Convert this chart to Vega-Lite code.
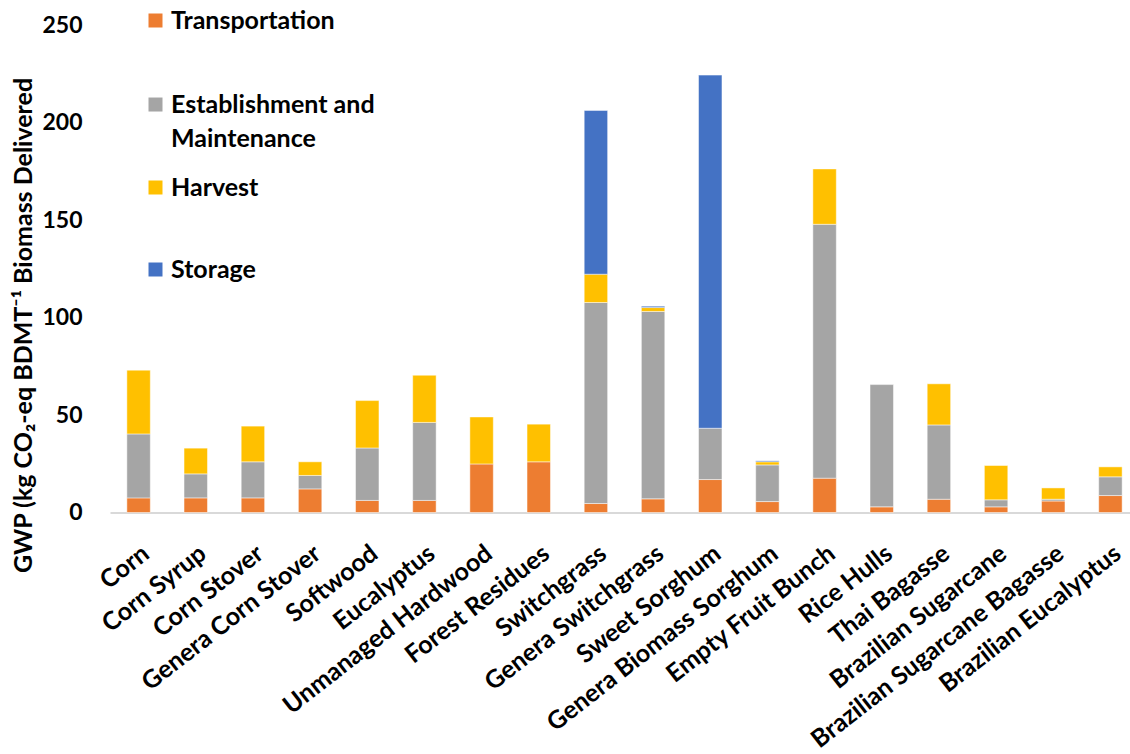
{
  "$schema": "https://vega.github.io/schema/vega-lite/v6.json",
  "width": 1020,
  "height": 487.5,
  "autosize": {"type": "none"},
  "padding": {"left": 110, "top": 25, "right": 0, "bottom": 241.5},
  "background": "white",
  "config": {
    "view": {"stroke": null},
    "font": "Lato",
    "style": {"guide-label": {"lineHeight": 34}}
  },
  "data": {
    "values": [
      {"feedstock": "Corn", "stage": "Transportation", "gwp": 7.5},
      {"feedstock": "Corn", "stage": "Establishment and Maintenance", "gwp": 32.8},
      {"feedstock": "Corn", "stage": "Harvest", "gwp": 32.7},
      {"feedstock": "Corn Syrup", "stage": "Transportation", "gwp": 7.5},
      {"feedstock": "Corn Syrup", "stage": "Establishment and Maintenance", "gwp": 12.3},
      {"feedstock": "Corn Syrup", "stage": "Harvest", "gwp": 13.2},
      {"feedstock": "Corn Stover", "stage": "Transportation", "gwp": 7.5},
      {"feedstock": "Corn Stover", "stage": "Establishment and Maintenance", "gwp": 18.5},
      {"feedstock": "Corn Stover", "stage": "Harvest", "gwp": 18.3},
      {"feedstock": "Genera Corn Stover", "stage": "Transportation", "gwp": 12.1},
      {"feedstock": "Genera Corn Stover", "stage": "Establishment and Maintenance", "gwp": 6.9},
      {"feedstock": "Genera Corn Stover", "stage": "Harvest", "gwp": 7.0},
      {"feedstock": "Softwood", "stage": "Transportation", "gwp": 6.2},
      {"feedstock": "Softwood", "stage": "Establishment and Maintenance", "gwp": 26.9},
      {"feedstock": "Softwood", "stage": "Harvest", "gwp": 24.3},
      {"feedstock": "Eucalyptus", "stage": "Transportation", "gwp": 6.2},
      {"feedstock": "Eucalyptus", "stage": "Establishment and Maintenance", "gwp": 40.0},
      {"feedstock": "Eucalyptus", "stage": "Harvest", "gwp": 24.2},
      {"feedstock": "Unmanaged Hardwood", "stage": "Transportation", "gwp": 24.9},
      {"feedstock": "Unmanaged Hardwood", "stage": "Harvest", "gwp": 24.1},
      {"feedstock": "Forest Residues", "stage": "Transportation", "gwp": 26.0},
      {"feedstock": "Forest Residues", "stage": "Harvest", "gwp": 19.3},
      {"feedstock": "Switchgrass", "stage": "Transportation", "gwp": 4.6},
      {"feedstock": "Switchgrass", "stage": "Establishment and Maintenance", "gwp": 103.1},
      {"feedstock": "Switchgrass", "stage": "Harvest", "gwp": 14.5},
      {"feedstock": "Switchgrass", "stage": "Storage", "gwp": 84.0},
      {"feedstock": "Genera Switchgrass", "stage": "Transportation", "gwp": 7.0},
      {"feedstock": "Genera Switchgrass", "stage": "Establishment and Maintenance", "gwp": 96.1},
      {"feedstock": "Genera Switchgrass", "stage": "Harvest", "gwp": 2.0},
      {"feedstock": "Genera Switchgrass", "stage": "Storage", "gwp": 0.7},
      {"feedstock": "Sweet Sorghum", "stage": "Transportation", "gwp": 16.9},
      {"feedstock": "Sweet Sorghum", "stage": "Establishment and Maintenance", "gwp": 26.3},
      {"feedstock": "Sweet Sorghum", "stage": "Storage", "gwp": 181.1},
      {"feedstock": "Genera Biomass Sorghum", "stage": "Transportation", "gwp": 5.6},
      {"feedstock": "Genera Biomass Sorghum", "stage": "Establishment and Maintenance", "gwp": 18.8},
      {"feedstock": "Genera Biomass Sorghum", "stage": "Harvest", "gwp": 1.6},
      {"feedstock": "Genera Biomass Sorghum", "stage": "Storage", "gwp": 0.5},
      {"feedstock": "Empty Fruit Bunch", "stage": "Transportation", "gwp": 17.6},
      {"feedstock": "Empty Fruit Bunch", "stage": "Establishment and Maintenance", "gwp": 130.2},
      {"feedstock": "Empty Fruit Bunch", "stage": "Harvest", "gwp": 28.4},
      {"feedstock": "Rice Hulls", "stage": "Transportation", "gwp": 2.9},
      {"feedstock": "Rice Hulls", "stage": "Establishment and Maintenance", "gwp": 62.7},
      {"feedstock": "Thai Bagasse", "stage": "Transportation", "gwp": 6.8},
      {"feedstock": "Thai Bagasse", "stage": "Establishment and Maintenance", "gwp": 38.1},
      {"feedstock": "Thai Bagasse", "stage": "Harvest", "gwp": 21.1},
      {"feedstock": "Brazilian Sugarcane", "stage": "Transportation", "gwp": 2.9},
      {"feedstock": "Brazilian Sugarcane", "stage": "Establishment and Maintenance", "gwp": 3.6},
      {"feedstock": "Brazilian Sugarcane", "stage": "Harvest", "gwp": 17.6},
      {"feedstock": "Brazilian Sugarcane Bagasse", "stage": "Transportation", "gwp": 5.9},
      {"feedstock": "Brazilian Sugarcane Bagasse", "stage": "Establishment and Maintenance", "gwp": 0.9},
      {"feedstock": "Brazilian Sugarcane Bagasse", "stage": "Harvest", "gwp": 5.8},
      {"feedstock": "Brazilian Eucalyptus", "stage": "Transportation", "gwp": 8.7},
      {"feedstock": "Brazilian Eucalyptus", "stage": "Establishment and Maintenance", "gwp": 9.6},
      {"feedstock": "Brazilian Eucalyptus", "stage": "Harvest", "gwp": 5.1}
    ]
  },
  "transform": [
    {"calculate": "indexof(['Transportation', 'Establishment and Maintenance', 'Harvest', 'Storage'], datum.stage)", "as": "stack_position"}
  ],
  "mark": {"type": "bar", "stroke": "white", "strokeWidth": 0.6, "strokeOpacity": 0.8},
  "encoding": {
    "x": {
      "field": "feedstock",
      "type": "nominal",
      "sort": null,
      "scale": {"range": [0, 1029], "paddingInner": 0.59, "paddingOuter": 0.295},
      "axis": {
        "title": null,
        "labelAngle": -38,
        "labelAlign": "right",
        "labelBaseline": "top",
        "labelFont": "Lato",
        "labelFontSize": 25,
        "labelFontWeight": "bold",
        "labelColor": "black",
        "labelLimit": 500,
        "labelPadding": 28,
        "labelOffset": 0,
        "ticks": false,
        "domainColor": "#d9d9d9",
        "domainWidth": 2
      }
    },
    "y": {
      "field": "gwp",
      "type": "quantitative",
      "stack": "zero",
      "scale": {"domain": [0, 250], "nice": false},
      "axis": {
        "title": "GWP (kg CO₂-eq BDMT⁻¹ Biomass Delivered",
        "titleFont": "Lato",
        "titleFontSize": 25,
        "titleFontWeight": "bold",
        "titleColor": "black",
        "titleAngle": -90,
        "titleX": -87,
        "titleY": 300,
        "titleAlign": "center",
        "titleBaseline": "middle",
        "values": [0, 50, 100, 150, 200, 250],
        "grid": false,
        "domain": false,
        "ticks": false,
        "labelFont": "Lato",
        "labelFontSize": 23,
        "labelFontWeight": "bold",
        "labelColor": "black",
        "labelPadding": 28
      }
    },
    "color": {
      "field": "stage",
      "type": "nominal",
      "sort": ["Transportation", "Establishment and Maintenance", "Harvest", "Storage"],
      "scale": {
        "domain": ["Transportation", "Establishment and Maintenance", "Harvest", "Storage"],
        "range": ["#ED7D31", "#A5A5A5", "#FFC000", "#4472C4"]
      },
      "legend": {
        "orient": "none",
        "legendX": 33,
        "legendY": -17,
        "title": null,
        "padding": 0,
        "symbolType": {"expr": "datum.value == 'Establishment and Maintenance' ? 'M-1,-2.14H1V-0.14H-1Z M0,-7.86' : datum.value == 'Storage' ? 'M-1,-1H1V1H-1Z M0,-6.43' : 'square'"},
        "symbolSize": 196,
        "symbolStrokeWidth": 0,
        "labelFont": "Lato",
        "labelFontSize": 25,
        "labelFontWeight": "bold",
        "labelColor": "black",
        "labelOffset": 3,
        "labelLimit": 400,
        "rowPadding": 23,
        "labelExpr": "datum.value == 'Establishment and Maintenance' ? ['Establishment and', 'Maintenance'] : datum.label",
        "labelBaseline": {"expr": "datum.value == 'Establishment and Maintenance' ? 'alphabetic' : 'middle'"}
      }
    },
    "order": {"field": "stack_position", "type": "quantitative", "sort": "ascending"}
  }
}
